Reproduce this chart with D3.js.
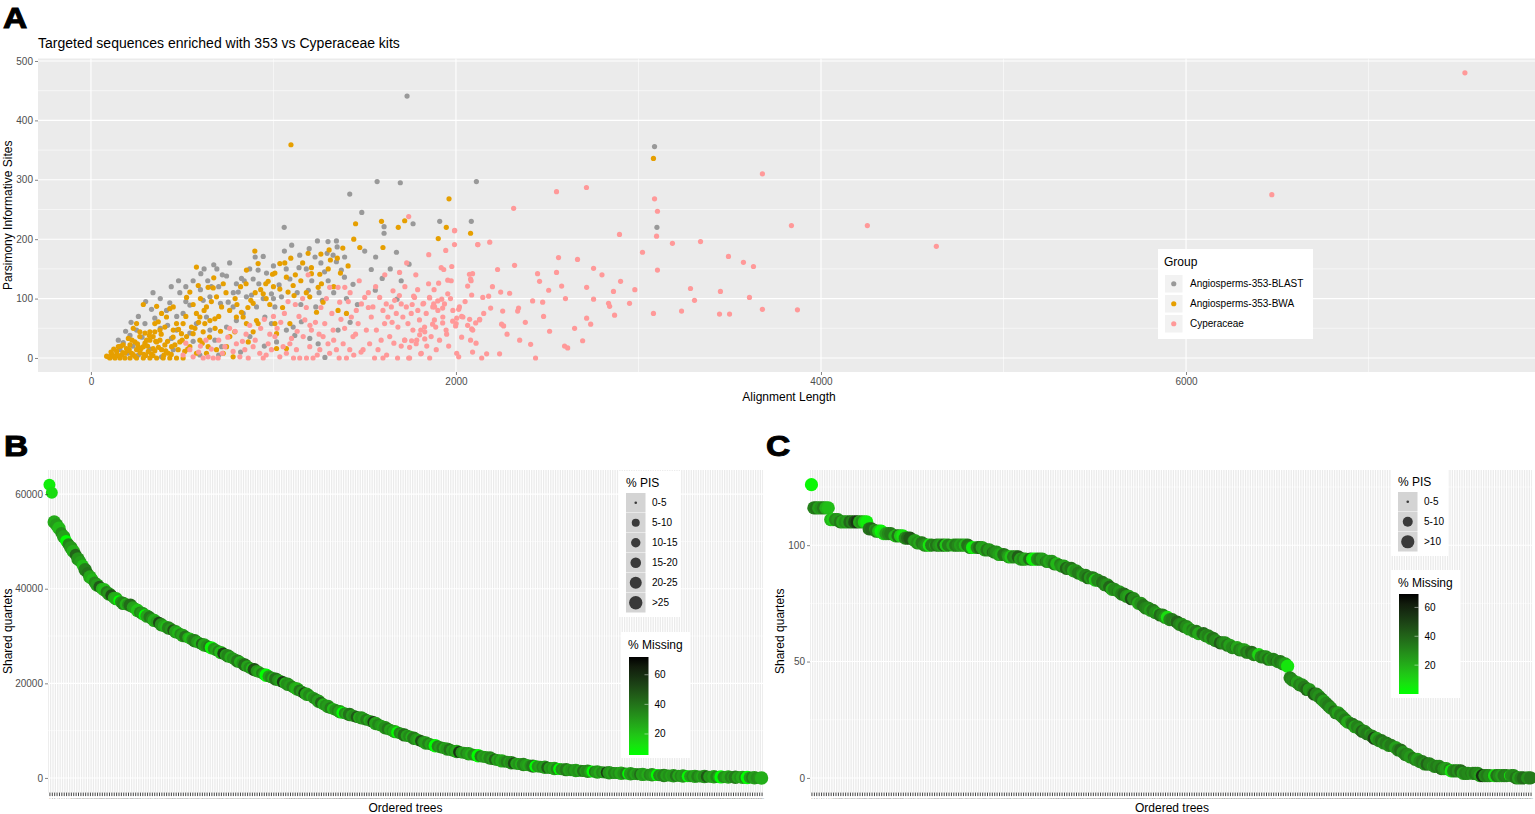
<!DOCTYPE html>
<html>
<head>
<meta charset="utf-8">
<script src="https://cdn.jsdelivr.net/npm/d3@7"></script>
<style>
body { margin: 0; background: #fff; }
svg { display: block; font-family: "Liberation Sans", Arial, sans-serif; }
</style>
</head>
<body>
<div id="figure"></div>
<script>

// ---- Panel A: alignment length vs parsimony informative sites, [length, PIS]
var blastPts = [[673,157],[743,138],[602,142],[797,125],[825,134],[889,133],[916,148],[944,171],[962,143],[1031,123],[1090,133],[1140,152],[1196,184],[1241,197],[1299,196],[1345,197],[1349,187],[1294,176],[1327,173],[1345,162],[1372,148],[1389,136],[1228,170],[1144,173],[1191,114],[1268,97],[1232,86],[1436,124],[1536,149],[1596,134],[1558,114],[1677,99],[1743,158],[1674,178],[1606,221],[1606,210],[1484,245],[1418,276],[1568,297],[1695,295],[2112,297],[1765,226],[1911,230],[2084,230],[1059,220],[487,110],[432,93],[414,80],[332,82],[350,67],[296,58],[214,38],[177,26],[159,14],[250,47],[469,47],[505,75],[542,89],[615,97],[652,103],[710,92],[752,94],[779,86],[807,111],[852,103],[880,106],[633,69],[578,58],[542,42],[652,47],[679,30],[716,19],[743,52],[797,63],[834,75],[907,86],[944,100],[989,108],[1008,86],[1044,103],[953,69],[989,58],[871,36],[1017,27],[1071,47],[1108,52],[1153,61],[1117,38],[1199,33],[1245,24],[1282,1],[1354,47],[451,14],[597,5],[387,2],[323,15],[560,28],[441,33],[3088,356],[3101,220],[1732,441],[380,50],[520,120],[560,130],[600,115],[690,150],[760,160],[870,150],[900,170],[1000,155],[1060,180],[1100,190],[1180,150],[1260,160],[1300,130],[1400,100],[1460,90],[1250,110],[1150,90],[700,120],[640,130],[470,70],[420,55],[280,35],[230,20],[200,8],[260,5],[700,5],[820,10],[950,20],
  [150,30],[190,45],[220,60],[260,70],[300,95],[340,110],[380,100],[440,120],[480,130],[520,95],[620,150],[660,120],[720,140],[780,110],[840,130],[920,125],[1000,100],[1070,150],[1130,110],[1210,130],[1280,145],[1330,110],[1390,170],[1420,60],[1500,180],[1560,170],[1640,150],[1700,130]];

var bwaPts = [[1962,268],[1450,226],[1592,230],[1719,231],[1684,220],[1947,220],[2080,210],[1903,201],[1600,186],[1473,186],[898,180],[1095,168],[1035,159],[1062,160],[1190,176],[1208,152],[1254,141],[1305,182],[1312,165],[1350,168],[1409,155],[1367,143],[578,153],[287,90],[360,87],[432,83],[524,102],[542,111],[588,122],[642,119],[670,118],[673,135],[725,125],[852,148],[916,159],[958,125],[971,129],[995,141],[1008,143],[944,108],[889,92],[876,97],[825,77],[834,69],[797,69],[852,58],[907,63],[1071,136],[1108,122],[1113,105],[1080,111],[1199,103],[1245,119],[1263,125],[1208,142],[1236,77],[1272,94],[1354,80],[1400,75],[1017,41],[1071,16],[743,19],[761,36],[788,44],[725,8],[688,14],[633,8],[642,19],[597,30],[560,41],[624,58],[652,63],[679,66],[597,69],[578,75],[633,86],[688,103],[716,86],[551,52],[496,41],[469,58],[451,47],[405,52],[378,47],[350,44],[360,27],[323,30],[296,25],[268,36],[232,50],[250,58],[387,75],[414,69],[451,86],[505,58],[524,36],[487,27],[442,19],[424,8],[387,14],[341,16],[314,11],[287,19],[250,14],[223,8],[195,16],[168,5],[141,11],[113,7],[86,3],[104,0],[132,0],[159,0],[186,0],[214,0],[250,0],[287,0],[323,0],[360,0],[396,0],[432,0],[469,0],[505,0],[214,22],[241,27],[268,44],[296,42],[323,44],[350,58],[369,61],[205,33],[177,22],[150,19],[259,19],[305,30],[341,36],[378,30],[405,22],[478,14],[514,11],[542,19],[578,8],[615,44],[779,2],[862,27],[889,44],[916,58],[1008,58],[1017,16],[1090,58],[1035,116],[3082,336],[1096,359],[120,3],[140,5],[175,9],[200,12],[230,6],[270,9],[300,4],[330,7],[350,12],[400,5],[420,28],[450,35],[480,48],[520,70],[560,90],[600,100],[620,80],[660,95],[700,70],[740,110],[790,100],[820,120],[850,125],[930,115],[980,90],[1050,85],[1150,130],[1180,110],[1300,150],[1330,120],
  [95,2],[110,10],[125,15],[150,4],[165,20],[185,8],[210,14],[225,30],[240,3],[255,24],[275,16],[290,6],[310,20],[320,38],[340,4],[355,28],[370,18],[385,40],[410,12],[440,6],[460,22],[500,30],[530,15],[570,50],[590,60],[610,25],[650,35],[680,50],[710,45],[760,80],[800,90],[860,85],[900,110],[960,100],[1000,120],[1120,140],[1160,160],[1260,175],[1380,185],[1440,200]];

var cypPts = [[505,5],[542,14],[615,0],[642,2],[670,0],[697,0],[734,19],[779,11],[797,24],[816,2],[843,14],[862,0],[889,19],[925,8],[944,0],[971,24],[989,14],[1008,36],[1035,2],[1053,19],[1071,8],[1090,24],[1099,33],[1126,14],[1144,0],[1163,36],[1172,64],[1181,0],[1199,19],[1208,47],[1217,0],[1254,14],[1272,36],[1281,58],[1299,24],[1308,8],[1327,47],[1345,14],[1354,119],[1363,94],[1382,24],[1391,119],[1400,0],[1418,14],[1427,69],[1436,36],[1454,80],[1464,58],[1482,91],[1491,14],[1500,102],[1509,47],[1527,24],[1536,69],[1545,86],[1554,0],[1564,47],[1573,14],[1582,102],[1600,80],[1609,58],[1618,91],[1627,69],[1637,36],[1646,86],[1655,113],[1664,97],[1673,75],[1682,52],[1691,144],[1700,91],[1709,69],[1719,30],[1728,86],[1737,58],[1746,0],[1755,75],[1764,47],[1773,102],[1782,24],[1791,80],[1800,64],[1810,8],[1819,91],[1828,52],[1837,75],[1855,102],[1864,36],[1873,86],[1882,64],[1892,14],[1901,80],[1919,152],[1928,69],[1937,91],[1946,47],[1955,108],[1974,130],[1983,80],[1992,214],[1992,191],[2001,58],[2019,86],[2038,69],[2074,141],[2083,130],[2092,47],[2120,191],[2129,64],[2147,102],[1190,140],[1308,119],[1741,238],
  [3679,310],[2551,280],[2715,287],[3088,268],[3104,247],[2316,252],[3838,223],[1993,215],[1944,181],[1851,174],[2896,208],[3099,205],[2119,191],[2185,195],[3186,193],[3340,196],[3022,178],[2562,169],[2666,166],[3493,171],[3575,161],[3630,154],[3104,148],[2754,151],[2321,156],[2228,149],[1933,149],[1977,154],[2091,142],[2447,142],[2551,144],[2458,129],[2902,129],[1955,131],[2080,133],[1905,126],[2064,121],[2579,121],[2508,114],[2716,119],[2863,112],[3285,117],[3449,112],[2086,106],[2179,104],[2245,111],[2294,109],[2420,96],[2475,94],[2754,99],[2836,92],[2842,87],[2951,92],[3307,97],[3608,102],[3679,82],[3871,81],[3082,75],[3236,79],[3444,74],[3499,74],[2869,72],[2716,67],[2738,57],[2513,45],[2694,29],[2349,30],[2409,23],[2595,20],[2612,17],[2436,0],[2239,7],[2168,7],[2141,0],[2091,10],[2004,8],[2015,2],[2080,30],[2031,35],[1949,40],[2256,79],[2338,79],[2343,84],[2250,57],[2261,54],[2152,75],[2130,65],[2108,59],[2075,65],[2064,55],[2086,49],[2015,82],[2031,70],[2004,67],[1998,54],[1982,62],[1927,59],[1889,52],[1872,57],[2190,84],[1927,84],[1883,86],[1856,101],[1922,99],[1900,96],[1768,104],[1823,92],[1878,91],[1807,7],[1856,0],[1741,0],[1746,18],[1757,29],[1785,30],[1719,30],[1801,39],[1829,44],[1807,47],[1829,32],
  [7528,480],[6470,275],[4254,223],[4632,188],
  [1120,90],[1160,100],[1230,60],[1260,85],[1320,75],[1390,50],[1410,95],[1450,40],[1480,10],[1520,110],[1590,30],[1620,5],[1650,60],[1700,20],[1720,120],[1760,90],[1790,115],[1840,20],[1880,115],[1960,20],[600,20],[700,30],[760,50],[850,40],[930,50],[1000,70],[1040,60],[1130,45],[960,5],[1110,0],[1240,5],[1360,0],[1440,5],[1600,0],[1680,0],
  [520,25],[560,2],[590,10],[630,30],[660,15],[720,8],[750,35],[790,45],[830,28],[870,55],[900,30],[950,65],[980,40],[1020,50],[1060,75],[1080,95],[1140,70],[1180,85],[1200,55],[1250,40],[1290,100],[1330,30],[1370,65],[1420,110],[1470,130],[1520,85],[1560,120],[1610,140],[1660,25],[1690,105],[1730,160],[1780,140],[1850,125],[1910,30],[1970,100],[2050,95],[2110,25],[2200,120],[2280,40],[2380,60],[2480,70],[2600,100],[2650,50],[2800,140],[2980,115]];

var groupNames = ["Angiosperms-353-BLAST", "Angiosperms-353-BWA", "Cyperaceae"];
var groupColors = ["#999999", "#E69F00", "#FF9999"];
var aXTicks = [0, 2000, 4000, 6000];
var aYTicks = [0, 100, 200, 300, 400, 500];

// ---- Panel B: shared quartets per ordered tree (in thousands)
var bQuartetsK = [62.0,60.3,54.1,53.5,52.8,51.8,51.0,50.1,49.4,48.7,47.9,47.2,46.3,45.7,44.9,44.0,43.3,42.5,42.0,41.3,
  40.8,40.4,40.0,39.8,39.3,38.9,38.6,38.1,37.9,37.5,37.2,36.9,36.7,36.6,36.5,36.1,35.8,35.4,35.0,34.8,
  34.4,34.2,34.0,33.6,33.3,33.0,32.8,32.4,32.1,31.9,31.7,31.5,31.2,30.9,30.7,30.4,30.1,29.9,29.7,29.5,
  29.2,29.0,28.8,28.5,28.3,28.1,27.9,27.7,27.5,27.3,27.0,26.8,26.5,26.3,26.0,25.8,25.5,25.3,25.0,24.7,
  24.5,24.2,23.9,23.6,23.3,23.1,22.9,22.6,22.4,22.2,21.9,21.7,21.5,21.3,21.1,20.9,20.7,20.5,20.3,20.0,
  19.8,19.6,19.3,19.0,18.8,18.5,18.2,17.9,17.7,17.5,17.2,16.9,16.6,16.2,15.9,15.6,15.3,15.1,14.8,14.6,
  14.4,14.2,14.0,13.8,13.7,13.5,13.4,13.2,13.1,12.9,12.8,12.7,12.5,12.3,12.2,12.0,11.8,11.5,11.3,11.1,
  10.9,10.6,10.4,10.2,10.0,9.8,9.6,9.5,9.3,9.1,8.9,8.8,8.6,8.4,8.2,8.0,7.8,7.6,7.4,7.3,
  7.1,6.9,6.8,6.7,6.5,6.4,6.3,6.1,6.0,5.8,5.7,5.6,5.5,5.4,5.3,5.2,5.1,5.0,4.9,4.8,
  4.7,4.6,4.5,4.4,4.3,4.2,4.0,3.9,3.8,3.7,3.6,3.5,3.4,3.3,3.2,3.1,3.0,2.95,2.9,2.85,
  2.75,2.7,2.6,2.5,2.45,2.4,2.35,2.3,2.25,2.2,2.1,2.05,2.0,1.95,1.9,1.85,1.8,1.75,1.7,1.65,
  1.6,1.57,1.54,1.5,1.47,1.44,1.41,1.38,1.35,1.3,1.26,1.22,1.2,1.17,1.14,1.11,1.08,1.05,1.02,1.0,
  0.98,0.95,0.92,0.9,0.87,0.85,0.83,0.8,0.78,0.75,0.73,0.7,0.68,0.66,0.63,0.6,0.58,0.55,0.53,0.52,
  0.5,0.48,0.47,0.45,0.44,0.42,0.41,0.4,0.38,0.37,0.35,0.34,0.33,0.31,0.3,0.29,0.28,0.27,0.26,0.25,
  0.24,0.23,0.22,0.21,0.2,0.19,0.18,0.17,0.16,0.15,0.14,0.12,0.11,0.1,0.08,0.07,0.05,0.04,0.02,0.0];

var bMissing = [10,14,26,30,22,33,28,6,36,31,25,44,32,29,21,37,40,27,23,34,
  30,47,26,22,38,32,50,28,25,6,31,36,24,33,42,29,27,20,35,31,
  4,28,39,34,25,30,52,33,27,22,36,31,48,29,23,34,28,40,26,21,
  32,37,30,25,44,28,33,39,8,31,27,35,22,54,30,36,26,32,29,38,
  25,31,42,28,34,23,50,32,27,37,30,5,29,35,26,41,32,28,56,25,
  33,30,37,27,24,39,31,52,28,34,26,32,36,29,44,25,33,30,38,22,
  31,35,28,6,33,27,40,30,34,47,26,32,29,37,25,31,54,28,35,30,
  27,33,39,28,32,26,7,35,30,42,29,34,25,38,31,27,50,33,29,36,
  28,32,4,35,30,37,26,31,40,29,33,27,58,32,28,36,30,25,34,31,
  5,38,29,32,27,35,30,44,28,33,26,31,37,29,34,52,28,32,25,36,
  30,27,33,39,6,31,28,35,30,46,29,32,27,36,4,33,30,38,28,31,
  35,29,32,27,40,30,34,28,5,37,31,26,33,29,55,32,28,36,30,34,
  27,32,38,6,30,35,28,33,42,29,31,26,36,32,28,5,34,30,37,29,
  33,28,31,40,27,35,30,32,7,29,34,28,37,31,26,33,48,30,32,28,
  36,29,4,33,31,27,35,30,38,28,32,26,34,5,30,37,29,33,31,25];

// % PIS class index: 0 "0-5" ... 5 ">25"
var bPisClass = [4,4,5,5,5,4,5,4,4,5,5,4,5,4,4,5,4,5,4,4,
  5,4,4,5,4,5,4,4,5,3,4,5,4,4,5,4,4,5,4,5,
  4,5,4,4,5,4,4,5,4,4,5,4,4,5,4,4,5,4,3,4,
  4,5,4,4,4,5,4,4,5,4,4,4,5,4,4,5,4,4,4,5,
  4,4,5,4,4,4,5,4,4,3,4,5,4,4,4,5,4,4,4,4,
  5,4,4,4,5,4,4,4,5,4,3,4,4,5,4,4,4,5,4,4,
  4,4,5,4,4,4,5,4,4,4,4,5,4,4,3,4,4,5,4,4,
  4,5,4,4,4,5,4,4,4,5,4,4,4,5,4,4,4,4,5,4,
  4,4,5,4,4,4,4,5,4,4,4,5,4,4,4,4,5,4,4,4,
  5,4,4,4,4,5,4,4,4,4,5,4,4,4,5,4,4,4,4,5,
  4,4,4,5,4,4,4,4,5,4,4,4,5,4,4,4,4,5,4,4,
  4,5,4,4,4,4,5,4,4,4,5,4,4,4,4,5,4,4,4,4,
  5,4,4,4,5,4,4,4,4,5,4,4,4,5,4,4,4,4,5,4,
  4,4,5,4,4,4,5,4,4,4,4,5,4,4,4,5,4,4,4,5,
  4,4,5,4,4,5,4,4,5,4,4,5,4,5,4,4,5,4,4,5];

var bPisLabels = ["0-5", "5-10", "10-15", "15-20", "20-25", ">25"];
var bYTicks = [0, 20000, 40000, 60000];
var bMissTicks = [20, 40, 60];

// ---- Panel C: shared quartets per ordered tree
var cQuartets = [126,116,116,116,116,116,116,116,111,111,111,111,110,110,110,110,110,110,110,110,
  110,110,110,110,107,107,107,106,106,106,105,105,105,105,104,104,104,104,104,103,
  103,103,102,102,101,101,101,100,100,100,100,100,100,100,100,100,100,100,100,100,
  100,100,100,100,100,100,99,99,99,99,99,99,98,98,98,97,97,97,96,96,
  96,96,95,95,95,95,95,94,94,94,94,94,94,94,94,94,94,93,93,93,
  93,92,92,92,91,91,90,90,90,89,89,88,88,87,87,86,86,86,85,85,
  84,84,83,83,82,81,81,80,80,79,79,78,78,77,77,76,75,75,74,73,
  73,72,72,71,71,70,70,69,69,68,68,67,67,66,66,65,65,64,64,63,
  63,62,62,62,61,61,60,60,59,59,58,58,58,57,57,56,56,56,55,55,
  55,54,54,54,53,53,53,52,52,52,51,51,51,50,50,50,49,49,48,43,
  42,41,41,40,40,39,38,38,37,36,36,35,34,33,32,31,30,29,28,28,
  27,26,25,24,24,23,22,22,21,20,20,19,19,18,17,17,16,16,15,15,
  14,14,13,13,12,12,11,10,10,9,9,8,8,7,7,6,6,6,5,5,
  5,5,4,4,4,4,3,3,3,3,3,2,2,2,2,2,2,2,1,1,
  1,1,1,1,1,1,1,1,1,1,1,1,1,0,0,0,0,0,0,0];

var cMissing = [2,32,36,24,28,34,20,16,18,12,30,26,34,22,28,24,39,32,46,54,
  22,28,12,4,36,40,28,32,16,2,8,24,30,34,22,18,36,14,6,30,
  38,44,32,24,28,22,34,30,26,6,32,20,36,28,24,40,14,32,26,22,
  34,30,24,28,18,36,32,4,10,30,38,24,22,34,26,40,32,28,24,20,
  36,30,24,14,32,28,42,24,30,22,34,38,6,2,28,32,24,36,30,22,
  26,34,18,32,28,24,40,30,36,22,28,34,30,24,32,38,26,34,14,30,
  24,36,32,28,40,22,30,34,26,32,38,28,24,46,30,34,22,28,36,32,
  30,24,34,28,22,38,32,26,8,30,34,24,40,32,28,36,30,24,32,26,
  34,22,30,38,28,32,24,36,30,26,42,32,28,34,24,30,36,22,32,28,
  24,34,30,38,32,26,10,30,34,28,36,24,32,40,28,34,30,24,6,32,
  30,36,24,32,28,34,40,26,30,44,32,28,36,24,30,34,28,38,32,24,
  32,28,34,22,30,36,24,32,28,40,30,34,26,32,50,24,30,36,28,34,
  28,34,30,24,32,38,28,34,30,26,36,32,24,30,34,28,40,32,24,30,
  34,30,36,28,24,32,6,30,34,28,38,24,32,30,36,28,34,30,24,56,
  30,34,28,32,8,36,30,24,34,32,4,28,30,36,24,32,38,30,28,34];

// % PIS class index: 0 "0-5", 1 "5-10", 2 ">10"
var cPisClass = [2,2,2,2,2,2,2,2,2,2,2,2,2,2,2,2,2,2,2,2,
  2,2,2,2,2,2,1,2,2,2,2,2,2,2,1,2,2,2,2,2,
  2,2,1,2,2,2,2,2,2,2,2,1,2,2,2,2,2,2,1,2,
  2,2,2,2,2,2,2,2,1,2,2,2,2,2,2,1,2,2,2,2,
  2,1,2,2,2,2,2,2,2,2,1,2,2,2,2,2,2,1,2,2,
  2,2,2,1,2,2,2,2,2,2,2,2,1,2,2,2,2,2,2,2,
  1,2,2,2,2,2,2,1,2,2,2,2,2,2,2,1,2,2,2,2,
  2,2,2,2,1,2,2,2,2,2,2,1,2,2,2,2,2,2,1,2,
  2,2,1,2,2,2,2,2,2,1,2,2,2,2,2,2,1,2,2,2,
  2,2,2,2,2,1,2,2,2,2,2,2,2,1,2,2,2,2,2,2,
  2,1,2,2,2,2,2,2,1,2,2,2,2,2,2,2,2,1,2,2,
  2,2,2,2,1,2,2,2,2,2,2,2,1,2,2,2,2,2,2,2,
  2,2,1,2,2,2,2,2,2,2,1,2,2,2,2,2,2,2,1,2,
  2,2,2,2,2,1,2,2,2,2,2,2,2,2,1,2,2,2,2,2,
  2,2,2,1,2,2,2,2,2,2,1,2,2,2,2,2,2,1,2,2];

var cPisLabels = ["0-5", "5-10", ">10"];
var cYTicks = [0, 50, 100];
var cMissTicks = [20, 40, 60];


// --> SVG DRAWING AREA
var width = 1535,
    height = 814;

var svg = d3.select("#figure").append("svg")
    .attr("width", width)
    .attr("height", height);

var tickColor = "#333333",
    tickText = "#4D4D4D";

// panel letters
[["A", 3, 28], ["B", 4, 456], ["C", 766, 456]].forEach(function(l) {
    svg.append("text")
        .attr("transform", "translate(" + l[1] + "," + l[2] + ") scale(1.12,1)")
        .style("font-size", "30px")
        .style("font-weight", "bold")
        .attr("stroke", "#000")
        .attr("stroke-width", 1)
        .text(l[0]);
});


// ===================== PANEL A =====================
var aL = 38, aR = 1535, aT = 58.5, aB = 372;

var xA = d3.scaleLinear().domain([-290, 7912]).range([aL, aR]);
var yA = d3.scaleLinear().domain([-23.6, 504.2]).range([aB, aT]);

var gA = svg.append("g");

gA.append("rect")
    .attr("x", aL).attr("y", aT)
    .attr("width", aR - aL).attr("height", aB - aT)
    .attr("fill", "#EBEBEB");

// minor grid
gA.selectAll(".minx").data([1000, 3000, 5000, 7000]).enter().append("line")
    .attr("x1", d => xA(d)).attr("x2", d => xA(d))
    .attr("y1", aT).attr("y2", aB)
    .attr("stroke", "#fff").attr("stroke-width", 0.55);
gA.selectAll(".miny").data([50, 150, 250, 350, 450]).enter().append("line")
    .attr("x1", aL).attr("x2", aR)
    .attr("y1", d => yA(d)).attr("y2", d => yA(d))
    .attr("stroke", "#fff").attr("stroke-width", 0.55);
// major grid
gA.selectAll(".majx").data(aXTicks).enter().append("line")
    .attr("x1", d => xA(d)).attr("x2", d => xA(d))
    .attr("y1", aT).attr("y2", aB)
    .attr("stroke", "#fff").attr("stroke-width", 1.1);
gA.selectAll(".majy").data(aYTicks).enter().append("line")
    .attr("x1", aL).attr("x2", aR)
    .attr("y1", d => yA(d)).attr("y2", d => yA(d))
    .attr("stroke", "#fff").attr("stroke-width", 1.1);

// points, one layer per group
[blastPts, bwaPts, cypPts].forEach(function(pts, gi) {
    gA.append("g").selectAll("circle")
        .data(pts)
        .enter().append("circle")
        .attr("cx", d => xA(d[0]))
        .attr("cy", d => yA(d[1]))
        .attr("r", 2.6)
        .attr("fill", groupColors[gi]);
});

function styleAxis(g) {
    g.select(".domain").remove();
    g.selectAll(".tick line").attr("stroke", tickColor).attr("stroke-width", 0.6);
    g.selectAll(".tick text").attr("fill", tickText).style("font-size", "10px");
}

gA.append("g")
    .attr("transform", "translate(" + aL + ",0)")
    .call(d3.axisLeft(yA).tickValues(aYTicks).tickSize(3).tickPadding(2).tickFormat(d3.format("d")))
    .call(styleAxis);

gA.append("g")
    .attr("transform", "translate(0," + aB + ")")
    .call(d3.axisBottom(xA).tickValues(aXTicks).tickSize(3).tickPadding(3).tickFormat(d3.format("d")))
    .call(styleAxis);

svg.append("text")
    .attr("x", aL).attr("y", 48)
    .style("font-size", "14px")
    .text("Targeted sequences enriched with 353 vs Cyperaceae kits");

svg.append("text")
    .attr("x", 789).attr("y", 401)
    .attr("text-anchor", "middle")
    .style("font-size", "12px")
    .text("Alignment Length");

svg.append("text")
    .attr("transform", "translate(12," + ((aT + aB) / 2) + ") rotate(-90)")
    .attr("text-anchor", "middle")
    .style("font-size", "12px")
    .text("Parsimony Informative Sites");

// group legend
var legA = svg.append("g").attr("transform", "translate(1158,249)");
legA.append("rect").attr("width", 155).attr("height", 90).attr("fill", "#fff");
legA.append("text").attr("x", 6).attr("y", 17).style("font-size", "12px").text("Group");
groupNames.forEach(function(name, i) {
    var ky = 26 + i * 20;
    legA.append("rect").attr("x", 7).attr("y", ky).attr("width", 17.5).attr("height", 17.5).attr("fill", "#F2F2F2");
    legA.append("circle").attr("cx", 15.75).attr("cy", ky + 8.75).attr("r", 2.6).attr("fill", groupColors[i]);
    legA.append("text").attr("x", 32).attr("y", ky + 12).style("font-size", "10px").text(name);
});


// ===================== PANELS B and C =====================
function drawTrees(o) {
    var trees = o.values.map(function(d, i) { return String(i + 1); });
    var top = 470, bottom = 792.6;

    var x = d3.scalePoint().domain(trees).range([o.left, o.right]).padding(0.6);
    var y = d3.scaleLinear().domain(o.yDomain).range([bottom, top]);
    var color = d3.scaleLinear().domain(o.missDomain)
        .range(["#00FF00", "#000000"])
        .interpolate(d3.interpolateLab)
        .clamp(true);

    var g = svg.append("g");

    g.append("rect")
        .attr("x", o.left).attr("y", top)
        .attr("width", o.right - o.left).attr("height", bottom - top)
        .attr("fill", "#EBEBEB");

    g.selectAll(".miny").data(o.yMinor).enter().append("line")
        .attr("x1", o.left).attr("x2", o.right)
        .attr("y1", d => y(d)).attr("y2", d => y(d))
        .attr("stroke", "#fff").attr("stroke-width", 0.55);
    g.selectAll(".majy").data(o.yTicks).enter().append("line")
        .attr("x1", o.left).attr("x2", o.right)
        .attr("y1", d => y(d)).attr("y2", d => y(d))
        .attr("stroke", "#fff").attr("stroke-width", 1.1);
    g.selectAll(".majx").data(trees).enter().append("line")
        .attr("x1", d => x(d)).attr("x2", d => x(d))
        .attr("y1", top).attr("y2", bottom)
        .attr("stroke", "#fff").attr("stroke-width", 1.1);

    g.append("g").selectAll("circle")
        .data(o.values)
        .enter().append("circle")
        .attr("cx", (d, i) => x(trees[i]))
        .attr("cy", d => y(d))
        .attr("r", (d, i) => o.pisR[o.pis[i]])
        .attr("fill", (d, i) => color(o.missing[i]));

    g.append("g")
        .attr("transform", "translate(" + o.left + ",0)")
        .call(d3.axisLeft(y).tickValues(o.yTicks).tickSize(3).tickPadding(2).tickFormat(d3.format("d")))
        .call(styleAxis);

    // one tick and a tiny label per tree
    var xa = g.append("g")
        .attr("transform", "translate(0," + bottom + ")")
        .call(d3.axisBottom(x).tickSize(3.5).tickPadding(1));
    xa.select(".domain").remove();
    xa.selectAll(".tick line").attr("stroke", "#444").attr("stroke-width", 1);
    xa.selectAll(".tick text").attr("fill", "#8a8a8a").style("font-size", "2.2px");

    g.append("text")
        .attr("x", (o.left + o.right) / 2 + o.xTitleShift).attr("y", 812)
        .attr("text-anchor", "middle")
        .style("font-size", "12px")
        .text("Ordered trees");

    g.append("text")
        .attr("transform", "translate(" + o.yTitleX + "," + ((top + bottom) / 2) + ") rotate(-90)")
        .attr("text-anchor", "middle")
        .style("font-size", "12px")
        .text("Shared quartets");

    // % PIS legend
    var lp = g.append("g").attr("transform", "translate(" + o.pisBox[0] + "," + o.pisBox[1] + ")");
    lp.append("rect").attr("width", o.pisBox[2]).attr("height", o.pisBox[3]).attr("fill", "#fff");
    lp.append("text").attr("x", 7).attr("y", 16).style("font-size", "12px").text("% PIS");
    o.pisLabels.forEach(function(lab, i) {
        var ky = 22 + i * 20;
        lp.append("rect").attr("x", 7).attr("y", ky).attr("width", 19.5).attr("height", 19.5).attr("fill", "#D4D4D4");
        lp.append("circle").attr("cx", 16.75).attr("cy", ky + 9.75).attr("r", o.pisR[i]).attr("fill", "#3A3A3A");
        lp.append("text").attr("x", 33).attr("y", ky + 13).style("font-size", "10px").text(lab);
    });

    // % Missing legend
    var lm = g.append("g").attr("transform", "translate(" + o.missBox[0] + "," + o.missBox[1] + ")");
    lm.append("rect").attr("width", o.missBox[2]).attr("height", o.missBox[3]).attr("fill", "#fff");
    lm.append("text").attr("x", 7).attr("y", 17).style("font-size", "12px").text("% Missing");

    var barX = 8, barW = 19.5, barTop = o.barY[0] - o.missBox[1], barBot = o.barY[1] - o.missBox[1];
    var gradId = "grad" + o.id;
    var grad = svg.append("defs").append("linearGradient")
        .attr("id", gradId).attr("x1", 0).attr("y1", 1).attr("x2", 0).attr("y2", 0);
    d3.range(0, 1.0001, 0.1).forEach(function(t) {
        grad.append("stop").attr("offset", t)
            .attr("stop-color", color(o.missDomain[0] + t * (o.missDomain[1] - o.missDomain[0])));
    });
    lm.append("rect").attr("x", barX).attr("y", barTop)
        .attr("width", barW).attr("height", barBot - barTop)
        .attr("fill", "url(#" + gradId + ")");

    var barScale = d3.scaleLinear().domain(o.missDomain).range([barBot, barTop]);
    o.missTicks.forEach(function(t) {
        lm.append("line")
            .attr("x1", barX + barW - 4).attr("x2", barX + barW)
            .attr("y1", barScale(t)).attr("y2", barScale(t))
            .attr("stroke", "#fff").attr("stroke-opacity", 0.6).attr("stroke-width", 0.8);
        lm.append("text").attr("x", barX + barW + 6).attr("y", barScale(t) + 3.5)
            .style("font-size", "10px").text(t);
    });
}

drawTrees({
    id: "B",
    values: bQuartetsK.map(d => d * 1000),
    missing: bMissing,
    pis: bPisClass,
    pisR: [1.3, 4, 4.7, 5.3, 6, 6.7],
    pisLabels: bPisLabels,
    left: 48, right: 763,
    yDomain: [-3100, 65100],
    yTicks: bYTicks,
    yMinor: [10000, 30000, 50000],
    missDomain: [5.8, 72],
    missTicks: bMissTicks,
    pisBox: [619, 471, 62, 146],
    missBox: [621, 632, 69, 126],
    barY: [657, 755],
    yTitleX: 12,
    xTitleShift: 0
});

drawTrees({
    id: "C",
    values: cQuartets,
    missing: cMissing,
    pis: cPisClass,
    pisR: [1.3, 5, 6.6],
    pisLabels: cPisLabels,
    left: 810, right: 1532,
    yDomain: [-6.3, 132.3],
    yTicks: cYTicks,
    yMinor: [25, 75, 125],
    missDomain: [0, 69.3],
    missTicks: cMissTicks,
    pisBox: [1391, 470, 57, 86],
    missBox: [1391, 570, 69, 128],
    barY: [594, 694],
    yTitleX: 784,
    xTitleShift: 1
});

</script>
</body>
</html>
